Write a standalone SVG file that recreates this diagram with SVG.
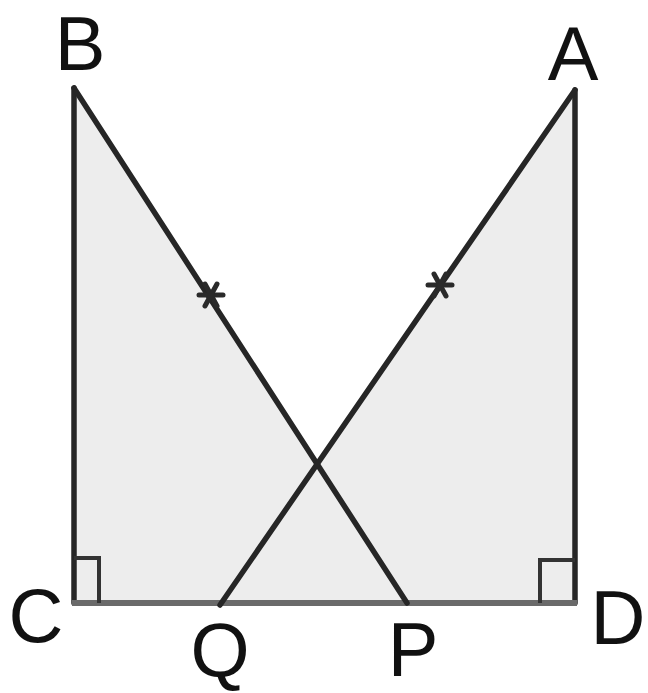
<svg xmlns="http://www.w3.org/2000/svg" width="648" height="693" viewBox="0 0 648 693">
<style>
.lbl{font-family:"Liberation Sans",Arial,sans-serif;font-size:76px;fill:#111;text-anchor:middle}
.ln{stroke:#262626;stroke-width:5.5;fill:none;stroke-linecap:round}
.base{stroke:#6a6a6a;stroke-width:6;fill:none}
.mk{stroke:#333;stroke-width:4;fill:none}
.st{stroke:#2a2a2a;stroke-width:5;stroke-linecap:round}
</style>
<rect width="648" height="693" fill="#fff"/>
<g id="fills">
<polygon points="74,88 74,603 405,603" fill="#ededed"/>
<polygon points="575,90 575,603 220,603" fill="#ededed"/>
</g>
<g id="connectors">
<line class="ln" x1="74" y1="88" x2="74" y2="603"/>
<line class="ln" x1="575" y1="90" x2="575" y2="603"/>
<line class="base" x1="72" y1="603" x2="577" y2="603"/>
<line class="ln" x1="74" y1="88" x2="407" y2="603"/>
<line class="ln" x1="575" y1="90" x2="220" y2="605"/>
</g>
<g id="right-angle-C"><polyline class="mk" points="74,558 99,558 99,603"/></g>
<g id="right-angle-D"><polyline class="mk" points="575,560 540,560 540,603"/></g>
<g id="mark-BP">
<line class="st" x1="199" y1="295" x2="223" y2="295"/>
<line class="st" x1="205" y1="284" x2="217" y2="306"/>
<line class="st" x1="217" y1="284" x2="205" y2="306"/>
</g>
<g id="mark-AQ">
<line class="st" x1="428" y1="285" x2="452" y2="285"/>
<line class="st" x1="434" y1="274" x2="446" y2="296"/>
<line class="st" x1="446" y1="274" x2="434" y2="296"/>
</g>
<g id="B"><text class="lbl" x="80" y="70">B</text></g>
<g id="A"><text class="lbl" x="573" y="80">A</text></g>
<g id="C"><text class="lbl" x="36" y="642">C</text></g>
<g id="D"><text class="lbl" x="618" y="644">D</text></g>
<g id="Q"><text class="lbl" x="220" y="676">Q</text></g>
<g id="P"><text class="lbl" x="413" y="676">P</text></g>
</svg>
